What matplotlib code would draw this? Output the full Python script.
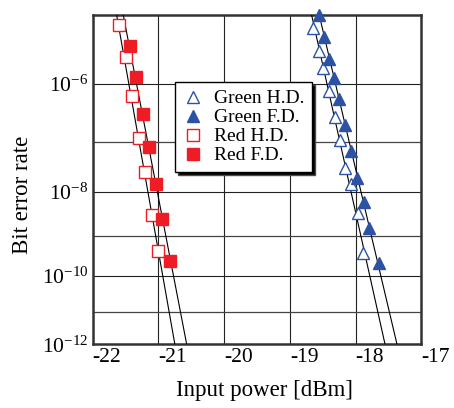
import numpy as np
import matplotlib
matplotlib.use("Agg")
import matplotlib.pyplot as plt

plt.rcParams['font.family'] = ['Liberation Serif', 'DejaVu Serif']
plt.rcParams['mathtext.fontset'] = 'custom'
plt.rcParams['mathtext.rm'] = 'Liberation Serif'
plt.rcParams['mathtext.it'] = 'Liberation Serif:italic'

# measured points (input power in dBm, bit error rate)
green_hd_x = [-18.65, -18.55, -18.49, -18.40, -18.31, -18.23, -18.16, -18.07, -17.97, -17.89]
green_hd_y = [6.7e-6, 3.2e-6, 1.75e-6, 7.7e-7, 2.75e-7, 1.08e-7, 3.1e-8, 1.5e-8, 3.4e-9, 3.9e-10]
green_fd_x = [-18.55, -18.48, -18.40, -18.33, -18.25, -18.16, -18.07, -17.98, -17.87, -17.79, -17.65]
green_fd_y = [1.0e-5, 5.1e-6, 2.4e-6, 1.22e-6, 5.6e-7, 2.0e-7, 6.8e-8, 1.93e-8, 6.1e-9, 1.6e-9, 2.1e-10]
red_hd_x = [-21.6, -21.5, -21.4, -21.3, -21.2, -21.1, -21.0]
red_hd_y = [7.4e-6, 2.56e-6, 6.3e-7, 1.16e-7, 2.6e-8, 3.1e-9, 4.4e-10]
red_fd_x = [-21.44, -21.34, -21.24, -21.14, -21.04, -20.94, -20.82]
red_fd_y = [3.75e-6, 1.27e-6, 3.15e-7, 8.1e-8, 1.45e-8, 2.5e-9, 2.4e-10]

# fitted lines: x at BER = 1e-5 and 1e-12
fit_ber = [1e-5, 1e-12]
fit_lines = [[-21.635, -20.75], [-21.534, -20.57],
             [-18.668, -17.552], [-18.552, -17.37]]

red = '#ee1c25'
blue = '#2d52a3'


def fwd(b):
    b = np.clip(b, 1e-300, 0.999)
    return -np.log10(-np.log10(b))


def inv(v):
    return 10.0 ** (-(10.0 ** (-v)))


fig = plt.figure(figsize=(4.54, 4.08), dpi=100)
ax = fig.add_axes([0.2042, 0.1561, 0.7238, 0.8064])
ax.set_yscale('function', functions=(fwd, inv))
ax.set_xlim(-22, -17)
ax.set_ylim(1e-12, 1e-5)

for xs in fit_lines:
    ax.plot(xs, fit_ber, color='black', lw=0.8, zorder=3)

ax.plot(green_hd_x, green_hd_y, ls='none', marker='^', ms=8.5, mfc='white',
        mec=blue, mew=1.0, label='Green H.D.', zorder=4, clip_on=False)
ax.plot(green_fd_x, green_fd_y, ls='none', marker='^', ms=8.5, mfc=blue,
        mec=blue, mew=1.0, label='Green F.D.', zorder=4, clip_on=False)
ax.plot(red_hd_x, red_hd_y, ls='none', marker='s', ms=8.5, mfc='white',
        mec=red, mew=1.0, label='Red H.D.', zorder=4, clip_on=False)
ax.plot(red_fd_x, red_fd_y, ls='none', marker='s', ms=8.5, mfc=red,
        mec=red, mew=1.0, label='Red F.D.', zorder=4, clip_on=False)

ax.set_xticks(range(-22, -16))
ax.set_xticklabels([str(v) for v in range(-22, -16)], ha='left')
ax.set_yticks([1e-6, 1e-8, 1e-10, 1e-12])
ax.set_yticklabels([r'$10^{-6}$', r'$10^{-8}$', r'$10^{-10}$', r'$10^{-12}$'])
ax.set_yticks([1e-7, 1e-9, 1e-11], minor=True)
ax.tick_params(which='both', length=0, labelsize=15.5)
ax.tick_params(axis='x', pad=3)
ax.tick_params(axis='y', pad=3)
ax.grid(True, which='major', color='#222222', lw=0.8)
ax.grid(True, which='minor', color='#444444', lw=0.9)

for sp in ax.spines.values():
    sp.set_linewidth(1.8)
    sp.set_color('#333333')

ax.set_xlabel('Input power [dBm]', fontsize=16.5)
ax.set_ylabel('Bit error rate', fontsize=16.5)
ax.xaxis.set_label_coords(0.524, -0.108)
ax.yaxis.set_label_coords(-0.182, 0.454)

leg = ax.legend(loc='upper left', bbox_to_anchor=(0.2505, 0.797), borderaxespad=0,
                fontsize=14, fancybox=False, edgecolor='black', framealpha=1,
                shadow={'ox': 2, 'oy': -2, 'facecolor': 'black', 'alpha': 1},
                handlelength=1.0, handletextpad=0.6, borderpad=0.4,
                labelspacing=0.07)
leg.get_frame().set_linewidth(1.0)
leg.set_zorder(5)

fig.savefig('out.png', dpi=100)
